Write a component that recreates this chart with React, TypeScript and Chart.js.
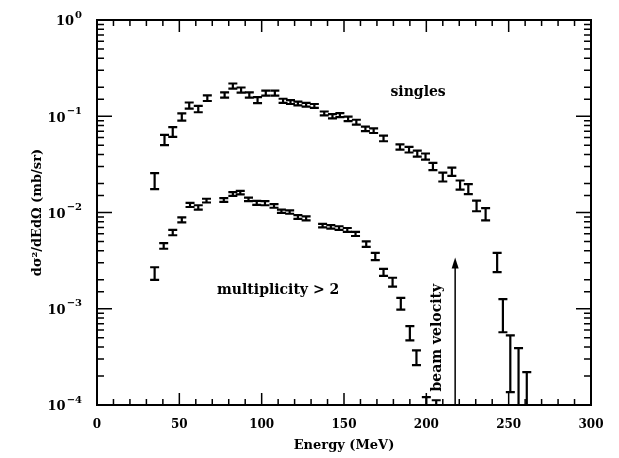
import React, { useEffect, useRef } from "react";
import { Chart, registerables } from "chart.js";
Chart.register(...registerables);

// ---- data ----
const singlesEnergy = [35, 41, 46, 51.5, 56, 61.5, 67, 77.5, 82.5, 87.5, 92.5, 97.5, 102.5, 108, 113, 117.5, 122, 127, 132, 138, 143, 147.5, 152.5, 157.5, 163, 168, 174, 184, 189.5, 194.5, 199.5, 204, 210, 215.5, 220.5, 225.5, 230.5, 236, 243, 246.5, 251, 256, 261];
const singlesValue = [0.0212, 0.0567, 0.0686, 0.098, 0.129, 0.119, 0.154, 0.166, 0.206, 0.187, 0.166, 0.147, 0.174, 0.174, 0.145, 0.14, 0.136, 0.132, 0.128, 0.107, 0.1, 0.103, 0.094, 0.087, 0.074, 0.071, 0.059, 0.048, 0.0447, 0.041, 0.038, 0.03, 0.0234, 0.0265, 0.0193, 0.0175, 0.0117, 0.0096, 0.0031, 0.00085, 0.00027, 0.00014, 0.0001];
const singlesLow = [0.0175, 0.05, 0.061, 0.09, 0.12, 0.11, 0.144, 0.156, 0.194, 0.176, 0.156, 0.137, 0.164, 0.164, 0.138, 0.134, 0.13, 0.126, 0.122, 0.102, 0.095, 0.098, 0.089, 0.082, 0.07, 0.067, 0.055, 0.045, 0.042, 0.038, 0.0355, 0.0275, 0.021, 0.024, 0.0173, 0.0155, 0.0103, 0.0083, 0.0024, 0.00057, 0.000136, 0.00006, 0.00005];
const singlesHigh = [0.0257, 0.064, 0.077, 0.107, 0.139, 0.128, 0.165, 0.177, 0.219, 0.199, 0.177, 0.158, 0.185, 0.185, 0.152, 0.147, 0.142, 0.138, 0.134, 0.112, 0.105, 0.108, 0.099, 0.092, 0.078, 0.075, 0.063, 0.051, 0.048, 0.044, 0.041, 0.0328, 0.026, 0.0292, 0.0215, 0.0197, 0.0133, 0.0111, 0.0038, 0.00126, 0.00053, 0.00039, 0.00022];

const multEnergy = [35, 40.5, 46, 51.5, 56.5, 61.5, 66.5, 77, 82.5, 87, 92, 97, 102, 107.5, 112, 117, 122, 127, 137, 142, 147, 152, 157, 163.5, 169, 174, 179.5, 184.5, 190, 194, 200, 206];
const multValue = [0.00235, 0.0045, 0.0062, 0.0084, 0.012, 0.0113, 0.0133, 0.0135, 0.0156, 0.0161, 0.0137, 0.0126, 0.0125, 0.0117, 0.0103, 0.0101, 0.009, 0.0087, 0.0073, 0.0071, 0.0069, 0.0066, 0.006, 0.0047, 0.0035, 0.0024, 0.0019, 0.00113, 0.00056, 0.00031, 0.00008, 0.00007];
const multLow = [0.002, 0.0042, 0.0058, 0.0079, 0.0114, 0.0107, 0.0127, 0.0129, 0.0149, 0.0154, 0.0131, 0.012, 0.0119, 0.0112, 0.0099, 0.0097, 0.0086, 0.0083, 0.007, 0.0068, 0.0066, 0.0063, 0.0057, 0.0044, 0.0032, 0.0022, 0.0017, 0.00098, 0.00047, 0.00026, 0.00004, 0.00004];
const multHigh = [0.0027, 0.0048, 0.0066, 0.0089, 0.0126, 0.0119, 0.0139, 0.0141, 0.0163, 0.0168, 0.0143, 0.0132, 0.0131, 0.0122, 0.0107, 0.0105, 0.0094, 0.0091, 0.0076, 0.0074, 0.0072, 0.0069, 0.0063, 0.005, 0.0038, 0.0026, 0.0021, 0.0013, 0.00066, 0.00037, 0.000121, 0.000112];

const beamEnergy = 217.5;
const beamArrowTip = 0.0034;

const labels = [
  { text: "singles", x: 195, y: 0.179 },
  { text: "multiplicity > 2", x: 110, y: 0.00157 },
];
const beamLabel = { text: "beam velocity", x: 206.5, y: 0.0005 };

const xMin = 0, xMax = 300, xStep = 50, xMinorStep = 10;
const yMin = 1e-4, yMax = 1;

const FONT = "'DejaVu Serif', serif";

function buildPoints(e: number[], v: number[], lo: number[], hi: number[]) {
  return e.map((x, i) => ({ x, y: v[i], lo: lo[i], hi: hi[i] }));
}

const errorBarPlugin = {
  id: "errorBars",
  afterDatasetsDraw(chart: any) {
    const { ctx, chartArea, scales } = chart;
    const y = scales.y;
    ctx.save();
    ctx.beginPath();
    ctx.rect(chartArea.left, chartArea.top, chartArea.right - chartArea.left, chartArea.bottom - chartArea.top);
    ctx.clip();
    ctx.strokeStyle = "#000";
    ctx.lineWidth = 2.2;
    chart.data.datasets.forEach((ds: any, di: number) => {
      const meta = chart.getDatasetMeta(di);
      meta.data.forEach((el: any, i: number) => {
        const p = ds.data[i];
        const px = el.x;
        const pLo = y.getPixelForValue(p.lo);
        const pHi = y.getPixelForValue(p.hi);
        const cap = 4.5;
        ctx.beginPath();
        ctx.moveTo(px, pLo);
        ctx.lineTo(px, pHi);
        ctx.moveTo(px - cap, pLo);
        ctx.lineTo(px + cap, pLo);
        ctx.moveTo(px - cap, pHi);
        ctx.lineTo(px + cap, pHi);
        ctx.stroke();
      });
    });
    ctx.restore();
  },
};

const framePlugin = {
  id: "frame",
  afterDraw(chart: any) {
    const { ctx, chartArea, scales } = chart;
    const { left, right, top, bottom } = chartArea;
    const x = scales.x;
    const y = scales.y;
    ctx.save();
    ctx.strokeStyle = "#000";
    ctx.lineWidth = 2;
    ctx.strokeRect(left, top, right - left, bottom - top);
    ctx.lineWidth = 1.5;
    ctx.beginPath();
    for (let v = xMin; v <= xMax; v += xMinorStep) {
      const px = x.getPixelForValue(v);
      const len = v % xStep === 0 ? 12 : 6;
      ctx.moveTo(px, bottom);
      ctx.lineTo(px, bottom - len);
      ctx.moveTo(px, top);
      ctx.lineTo(px, top + len);
    }
    y.ticks.forEach((t: any) => {
      const val = t.value;
      const l = Math.log10(val);
      const major = Math.abs(l - Math.round(l)) < 1e-6;
      const py = y.getPixelForValue(val);
      const len = major ? 15 : 7;
      ctx.moveTo(left, py);
      ctx.lineTo(left + len, py);
      ctx.moveTo(right, py);
      ctx.lineTo(right - len, py);
    });
    ctx.stroke();

    // y tick labels with superscript exponents
    ctx.fillStyle = "#000";
    ctx.textBaseline = "middle";
    y.ticks.forEach((t: any) => {
      const l = Math.log10(t.value);
      if (Math.abs(l - Math.round(l)) > 1e-6) return;
      const e = Math.round(l);
      const py = y.getPixelForValue(t.value);
      const expText = e === 0 ? "0" : "\u2212" + String(-e);
      ctx.font = `bold 10px ${FONT}`;
      ctx.textAlign = "right";
      const rx = left - 15;
      ctx.fillText(expText, rx, py - 5);
      const ew = ctx.measureText(expText).width;
      ctx.font = `bold 13px ${FONT}`;
      ctx.fillText("10", rx - ew - 1, py + 2);
    });

    // beam velocity arrow
    const ax = x.getPixelForValue(beamEnergy);
    const ay = y.getPixelForValue(beamArrowTip);
    ctx.lineWidth = 1.5;
    ctx.beginPath();
    ctx.moveTo(ax, bottom);
    ctx.lineTo(ax, ay + 6);
    ctx.stroke();
    ctx.beginPath();
    ctx.moveTo(ax, ay);
    ctx.lineTo(ax - 3.5, ay + 11);
    ctx.lineTo(ax + 3.5, ay + 11);
    ctx.closePath();
    ctx.fill();

    // text annotations
    ctx.font = `bold 14px ${FONT}`;
    ctx.textAlign = "center";
    ctx.textBaseline = "middle";
    labels.forEach((lb) => {
      ctx.fillText(lb.text, x.getPixelForValue(lb.x), y.getPixelForValue(lb.y));
    });
    ctx.save();
    ctx.translate(x.getPixelForValue(beamLabel.x), y.getPixelForValue(beamLabel.y));
    ctx.rotate(-Math.PI / 2);
    ctx.fillText(beamLabel.text, 0, 0);
    ctx.restore();
    ctx.restore();
  },
};

export default function App() {
  const ref = useRef<HTMLCanvasElement>(null);
  useEffect(() => {
    const chart = new Chart(ref.current!, {
      type: "scatter",
      data: {
        datasets: [
          { label: "singles", data: buildPoints(singlesEnergy, singlesValue, singlesLow, singlesHigh) as any, pointRadius: 0, showLine: false },
          { label: "multiplicity > 2", data: buildPoints(multEnergy, multValue, multLow, multHigh) as any, pointRadius: 0, showLine: false },
        ],
      },
      options: {
        animation: false,
        responsive: false,
        layout: { padding: { top: 20, right: 28, left: 0, bottom: 0 } },
        plugins: { legend: { display: false }, tooltip: { enabled: false } },
        scales: {
          x: {
            type: "linear",
            min: xMin,
            max: xMax,
            grid: { display: false, drawTicks: false },
            border: { display: false },
            ticks: {
              stepSize: xStep,
              padding: 13,
              color: "#000",
              font: { family: FONT, size: 12, weight: "bold" },
            },
            title: {
              display: true,
              text: "Energy (MeV)",
              color: "#000",
              font: { family: FONT, size: 13, weight: "bold" },
              padding: { top: 0, bottom: 5 },
            },
            afterFit: (s: any) => {
              s.height = 53;
            },
          },
          y: {
            type: "logarithmic",
            min: yMin,
            max: yMax,
            grid: { display: false, drawTicks: false },
            border: { display: false },
            ticks: {
              autoSkip: false,
              display: false,
            },
            title: {
              display: true,
              text: "dσ²/dEdΩ (mb/sr)",
              color: "#000",
              font: { family: FONT, size: 13, weight: "bold" },
              padding: { top: 30, bottom: 0 },
            },
            afterFit: (s: any) => {
              s.width = 97;
            },
          },
        },
      },
      plugins: [errorBarPlugin, framePlugin],
    });
    return () => chart.destroy();
  }, []);
  return (
    <div style={{ position: "absolute", left: 0, top: 0, width: 619, height: 458, background: "#fff" }}>
      <canvas ref={ref} width={619} height={458} style={{ width: 619, height: 458 }} />
    </div>
  );
}
